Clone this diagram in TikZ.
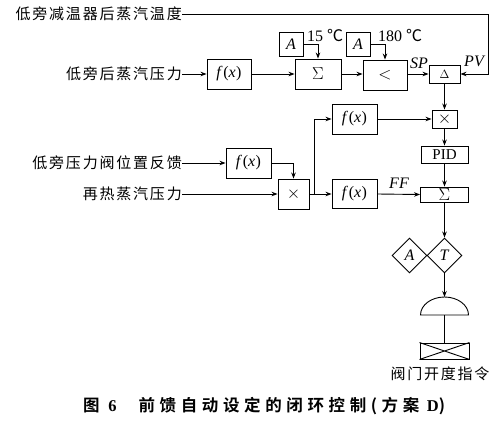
\documentclass[tikz,border=0pt]{standalone}
\usepackage{fontspec}
\setmainfont{Liberation Serif}
\newfontfamily\cjk[LetterSpace=12]{Noto Sans CJK SC}
\newfontfamily\cjkb[LetterSpace=28]{Noto Sans CJK SC Bold}
\usetikzlibrary{arrows.meta,shapes.geometric,calc}
\newcommand{\fxx}{\textit{f}\kern0.5pt(\textit{x}\kern0.5pt)}
\tikzset{
  blk/.style={draw, line width=0.9pt, inner sep=0pt, font=\fontsize{16}{16}\selectfont},
  lbl/.style={inner sep=0pt, font=\fontsize{15}{15}\selectfont\cjk},
  arr/.style={-{Stealth[length=6pt,width=4.5pt]}, line width=0.9pt},
  ln/.style={line width=0.9pt},
  itl/.style={inner sep=0pt, font=\fontsize{16}{16}\selectfont\itshape},
}
\begin{document}
\begin{tikzpicture}[x=1pt,y=-1pt]
\useasboundingbox (0,0) rectangle (500,423);
% input texts
\node[lbl, anchor=east] (t1) at (182,14) {低旁减温器后蒸汽温度};
\node[lbl, anchor=east] (t2) at (182,74) {低旁后蒸汽压力};
\node[lbl, anchor=east] (t3) at (182,163) {低旁压力阀位置反馈};
\node[lbl, anchor=east] (t4) at (182,194) {再热蒸汽压力};
% blocks row 1
\node[blk, minimum width=44, minimum height=30] (f1) at (229,74) {\fxx};
\node[blk, minimum width=46, minimum height=30] (sig1) at (318,74) {$\Sigma$};
\node[blk, minimum width=44, minimum height=30] (lt) at (385,75) {$<$};
\node[blk, minimum width=31, minimum height=18] (del) at (444.5,74) {\fontsize{13}{13}\selectfont$\Delta$};
\node[blk, minimum width=24, minimum height=24] (a1) at (291,44) {\textit{A}};
\node[blk, minimum width=24, minimum height=24] (a2) at (358,44) {\textit{A}};
% blocks lower
\node[blk, minimum width=25, minimum height=18] (mul1) at (444.5,119) {$\times$};
\node[blk, minimum width=47, minimum height=17, font=\fontsize{15}{15}\selectfont] (pid) at (444.5,154.5) {PID};
\node[blk, minimum width=48, minimum height=15] (sig2) at (444.5,194.5) {$\Sigma$};
\node[blk, minimum width=45, minimum height=30] (fu) at (354.5,119) {\fxx};
\node[blk, minimum width=45, minimum height=29] (fl) at (354.5,194) {\fxx};
\node[blk, minimum width=45, minimum height=30] (fm) at (248.5,163) {\fxx};
\node[blk, minimum width=31, minimum height=30] (mul2) at (293.5,194) {$\times$};
\node[blk, shape=diamond, minimum width=35, minimum height=35] (dT) at (444.5,255.5) {\textit{T}};
\node[blk, shape=diamond, minimum width=35, minimum height=35] (dA) at (409.5,255.5) {\textit{A}};
\node[blk, minimum width=49, minimum height=16] (valve) at (444.5,351) {};
\draw[ln] (valve.north west) -- (valve.south east) (valve.south west) -- (valve.north east);
% dome
\coordinate (dtop) at (444.5,297);
\coordinate (dbase) at (444.5,315);
\draw[ln] (420.5,315) arc[start angle=180,end angle=0,x radius=24pt,y radius=18pt] -- cycle;
% labels
\node[inner sep=0pt, anchor=west, font=\fontsize{16}{16}\selectfont] (l15) at (307,35) {15 {\cjk ℃}};
\node[inner sep=0pt, anchor=west, font=\fontsize{16}{16}\selectfont] (l180) at (378,35) {180 {\cjk ℃}};
\node[itl] (sp) at (419,63) {SP};
\node[itl] (pv) at (474,61) {PV};
\node[itl] (ff) at (399,183) {FF};
\node[lbl] (vl) at (440,374) {阀门开度指令};
\node[inner sep=0pt, anchor=west, font=\fontsize{16.5}{16.5}\selectfont] (cap) at (83,406) {{\cjkb 图}\hspace{4pt}\textbf{6}\hspace{22pt}{\cjkb 前馈自动设定的闭环控制(方案}\hspace{3pt}\textbf{D}{\cjkb )}};
% connectors
\coordinate (tr) at (488,14);
\draw[arr] (t1.east) -- (tr) |- (del.east);
\draw[arr] (t2.east) -- (f1.west);
\draw[arr] (f1.east) -- (sig1.west);
\draw[arr] (a1.east) -| (sig1.north);
\draw[arr] (a2.east) -| (lt.north);
\draw[arr] (sig1.east) -- (sig1.east -| lt.west);
\draw[arr] (lt.east |- del.west) -- (del.west);
\draw[arr] (del.south) -- (mul1.north);
\draw[arr] (mul1.south) -- (pid.north);
\draw[arr] (pid.south) -- (sig2.north);
\draw[arr] (sig2.south) -- (dT.north);
\draw[arr] (dT.south) -- (dtop);
\draw[ln] (dbase) -- (valve.north);
\draw[arr] (t3.east) -- (fm.west);
\draw[arr] (fm.east) -| (mul2.north);
\draw[arr] (t4.east) -- (mul2.west);
\draw[arr] (mul2.east) -- (fl.west);
\coordinate (br) at (314,194);
\draw[arr] (br) |- (fu.west);
\draw[arr] (fu.east) -- (mul1.west);
\draw[arr] (fl.east) -- (sig2.west);
\end{tikzpicture}
\end{document}
